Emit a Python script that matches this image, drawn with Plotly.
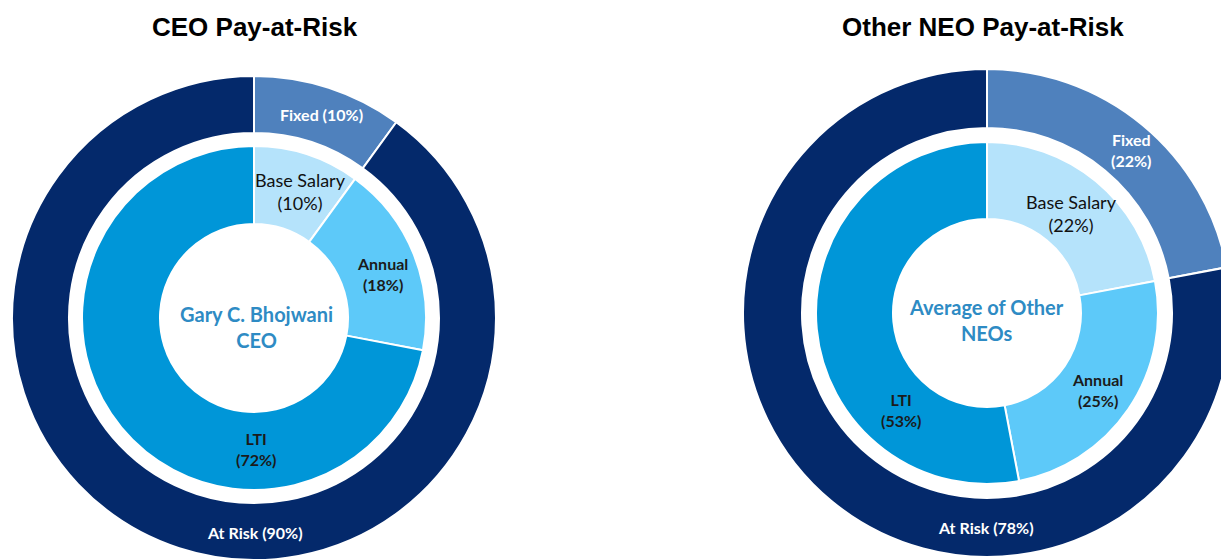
import plotly.graph_objects as go

# ---- data ----
outer_labels = ["Fixed", "At Risk"]
ceo_outer = [10, 90]
neo_outer = [22, 78]
inner_labels = ["Base Salary", "Annual", "LTI"]
ceo_inner = [10, 18, 72]
neo_inner = [22, 25, 53]
titles = ["CEO Pay-at-Risk", "Other NEO Pay-at-Risk"]
center_texts = ["Gary C. Bhojwani<br>CEO", "Average of Other<br>NEOs"]

# ---- style ----
W, H = 1235, 560   # slightly wider than the window; right ring is clipped like the reference
OFF = 0
outer_colors = ["#4F81BD", "#04296B"]
inner_colors = ["#B5E3FB", "#5DC9F9", "#0096D8"]
FONT = "Lato"


def dom(cx, cy, r):
    cx -= OFF
    cy -= OFF
    return dict(x=[max(0, (cx - r) / W), min(1, (cx + r) / W)],
                y=[max(0, (H - cy - r) / H), min(1, (H - cy + r) / H)])


fig = go.Figure()

panels = [
    dict(outer=ceo_outer, inner=ceo_inner, cx=254, cy=318, ro=242, ri=172),
    dict(outer=neo_outer, inner=neo_inner, cx=987, cy=313, ro=244, ri=171),
]
for p in panels:
    fig.add_trace(go.Pie(labels=outer_labels, values=p["outer"], hole=185 / p["ro"],
                         sort=False, direction="clockwise", rotation=0,
                         marker=dict(colors=outer_colors, line=dict(color="white", width=2)),
                         textinfo="none", hoverinfo="label+percent",
                         domain=dom(p["cx"], p["cy"], p["ro"])))
    fig.add_trace(go.Pie(labels=inner_labels, values=p["inner"], hole=94 / p["ri"],
                         sort=False, direction="clockwise", rotation=0,
                         marker=dict(colors=inner_colors, line=dict(color="white", width=2)),
                         textinfo="none", hoverinfo="label+percent",
                         domain=dom(p["cx"], p["cy"], p["ri"])))

ann = []


def add(text, x, y, size=16, color="#1b1b1b", bold=True, family=FONT):
    t = f"<b>{text}</b>" if bold else text
    ann.append(dict(text=t, x=(x - OFF) / W, y=1 - (y - OFF) / H, xref="paper", yref="paper",
                    showarrow=False, xanchor="center", yanchor="middle",
                    font=dict(size=size, color=color, family=family)))


# titles
add(titles[0], 255, 27, size=26, color="black", family="Liberation Sans, Arial")
add(titles[1], 983, 27, size=26, color="black", family="Liberation Sans, Arial")

# CEO labels
add(f"{outer_labels[0]} ({ceo_outer[0]}%)", 322, 115, color="white")
add(f"{outer_labels[1]} ({ceo_outer[1]}%)", 255, 532, color="white")
add(f"{inner_labels[0]}<br>({ceo_inner[0]}%)", 300, 191, size=18, color="#111", bold=False)
add(f"{inner_labels[1]}<br>({ceo_inner[1]}%)", 383, 274)
add(f"{inner_labels[2]}<br>({ceo_inner[2]}%)", 256, 449)
add(center_texts[0], 256, 327, size=20, color="#2E8BC4")

# NEO labels
add(f"{outer_labels[0]}<br>({neo_outer[0]}%)", 1131, 150, color="white")
add(f"{outer_labels[1]} ({neo_outer[1]}%)", 986, 527, color="white")
add(f"{inner_labels[0]}<br>({neo_inner[0]}%)", 1071, 213, size=18, color="#111", bold=False)
add(f"{inner_labels[1]}<br>({neo_inner[1]}%)", 1097, 390)
add(f"{inner_labels[2]}<br>({neo_inner[2]}%)", 901, 410)
add(center_texts[1], 987, 320, size=20, color="#2E8BC4")

fig.update_layout(width=W, height=H, margin=dict(l=0, r=0, t=0, b=0),
                  paper_bgcolor="white", plot_bgcolor="white",
                  showlegend=False, annotations=ann)

fig.write_html("out.html",
               config={"displayModeBar": False},
               post_script="document.body.style.margin='0';"
                           "document.documentElement.style.overflow='hidden';"
                           "document.body.style.overflow='hidden';")
